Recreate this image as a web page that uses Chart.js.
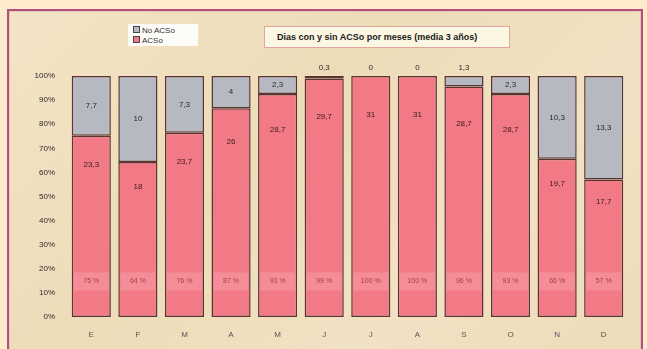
<!DOCTYPE html>
<html>
<head>
<meta charset="utf-8">
<script src="https://cdn.jsdelivr.net/npm/chart.js@4"></script>
<style>
  body { margin: 0; background: #fdebcb; width: 647px; height: 349px; overflow: hidden; position: relative; font-family: Arial, "Liberation Sans", sans-serif; }
  .frame { position: absolute; left: 7px; top: 9px; width: 632px; height: 345px; border: 2px solid #b24f7c; background: linear-gradient(135deg, #f3e4c6 0%, #eddcb8 40%, #f2e2c4 70%, #ecdcb9 100%); box-shadow: inset 0 0 0 1px #e7c7b5; }
  .legend { position: absolute; left: 128px; top: 24px; width: 70px; height: 22px; background: #fdfcf8; font-size: 8px; color: #333; line-height: 10px; padding-top: 2px; box-sizing: border-box; }
  .legend div { padding-left: 5px; white-space: nowrap; }
  .legend span { display: inline-block; width: 5px; height: 5px; border: 1px solid #444; margin-right: 2px; vertical-align: 0px; }
  .title { position: absolute; left: 264px; top: 26px; width: 246px; height: 22px; background: #fcf7e2; border: 1px solid #e2a49c; box-sizing: border-box; font-size: 9px; font-weight: bold; color: #1a1a1a; line-height: 20px; padding-left: 12px; white-space: nowrap; }
  canvas { position: absolute; left: 0; top: 0; }
</style>
</head>
<body>
<div class="frame"></div>
<div class="legend">
  <div><span style="background:#b6b8c2"></span>No ACSo</div>
  <div><span style="background:#f27a86"></span>ACSo</div>
</div>
<div class="title">Dias con y sin ACSo por meses (media 3 años)</div>
<canvas id="chart" width="647" height="349"></canvas>
<script>
// months (Spanish initials)
const months = ['E', 'F', 'M', 'A', 'M', 'J', 'J', 'A', 'S', 'O', 'N', 'D'];
// average days per month
const daysACSo = [23.3, 18, 23.7, 26, 28.7, 29.7, 31, 31, 28.7, 28.7, 19.7, 17.7];
const daysNoACSo = [7.7, 10, 7.3, 4, 2.3, 0.3, 0, 0, 1.3, 2.3, 10.3, 13.3];
const yTicks = [0, 10, 20, 30, 40, 50, 60, 70, 80, 90, 100];

const pctACSo = daysACSo.map((v, i) => v / (v + daysNoACSo[i]) * 100);
const pctNoACSo = daysNoACSo.map((v, i) => v / (v + daysACSo[i]) * 100);

function fmt(v) {
    return String(v).replace('.', ',');
}

const labelPlugin = {
    id: 'barLabels',
    afterDatasetsDraw(chart) {
        const ctx = chart.ctx;
        const y = chart.scales.y;
        const red = chart.getDatasetMeta(0).data;
        ctx.save();
        ctx.textAlign = 'center';
        ctx.textBaseline = 'middle';
        red.forEach((bar, i) => {
            const half = bar.width / 2;
            // light band behind percentage
            ctx.fillStyle = 'rgba(255,255,255,0.15)';
            ctx.fillRect(bar.x - half + 2, y.getPixelForValue(18.5), bar.width - 4, y.getPixelForValue(11) - y.getPixelForValue(18.5));
            ctx.font = '7px Arial';
            ctx.fillStyle = '#b23848';
            ctx.fillText(Math.round(pctACSo[i]) + ' %', bar.x, y.getPixelForValue(15));
            // days with ACSo
            ctx.font = '8px Arial';
            ctx.fillStyle = '#3a1a1e';
            ctx.fillText(fmt(daysACSo[i]), bar.x, y.getPixelForValue(pctACSo[i] * 0.84));
            // days without ACSo
            ctx.fillStyle = '#2a2a2a';
            if (pctNoACSo[i] < 5) {
                ctx.fillText(fmt(daysNoACSo[i]), bar.x, y.top - 8);
            } else {
                ctx.fillText(fmt(daysNoACSo[i]), bar.x, y.getPixelForValue(pctACSo[i] + pctNoACSo[i] / 2));
            }
        });
        ctx.restore();
    }
};

new Chart(document.getElementById('chart'), {
    type: 'bar',
    data: {
        labels: months,
        datasets: [{
            label: 'ACSo',
            data: pctACSo,
            backgroundColor: '#f27a86',
            borderColor: '#5a3434',
            borderWidth: 1.5,
            borderSkipped: false,
            categoryPercentage: 1,
            barPercentage: 0.84
        }, {
            label: 'No ACSo',
            data: pctNoACSo,
            backgroundColor: '#b6b8c2',
            borderColor: '#5a3434',
            borderWidth: 1.5,
            borderSkipped: false,
            categoryPercentage: 1,
            barPercentage: 0.84
        }]
    },
    options: {
        responsive: false,
        animation: false,
        layout: { padding: { left: 32, right: 20, top: 76, bottom: 12 } },
        plugins: {
            legend: { display: false },
            tooltip: { enabled: false }
        },
        scales: {
            x: {
                stacked: true,
                grid: { display: false },
                border: { display: false },
                ticks: { color: '#555', font: { size: 8, family: 'Arial' }, padding: 5 },
                afterFit: s => { s.height = 20; }
            },
            y: {
                stacked: true,
                min: 0,
                max: 100,
                afterBuildTicks: s => { s.ticks = yTicks.map(v => ({ value: v })); },
                grid: { display: false },
                border: { display: false },
                ticks: { color: '#2a2a2a', font: { size: 8, family: 'Arial' }, padding: 5, callback: v => v + '%' },
                afterFit: s => { s.width = 36; }
            }
        }
    },
    plugins: [labelPlugin]
});
</script>
</body>
</html>
